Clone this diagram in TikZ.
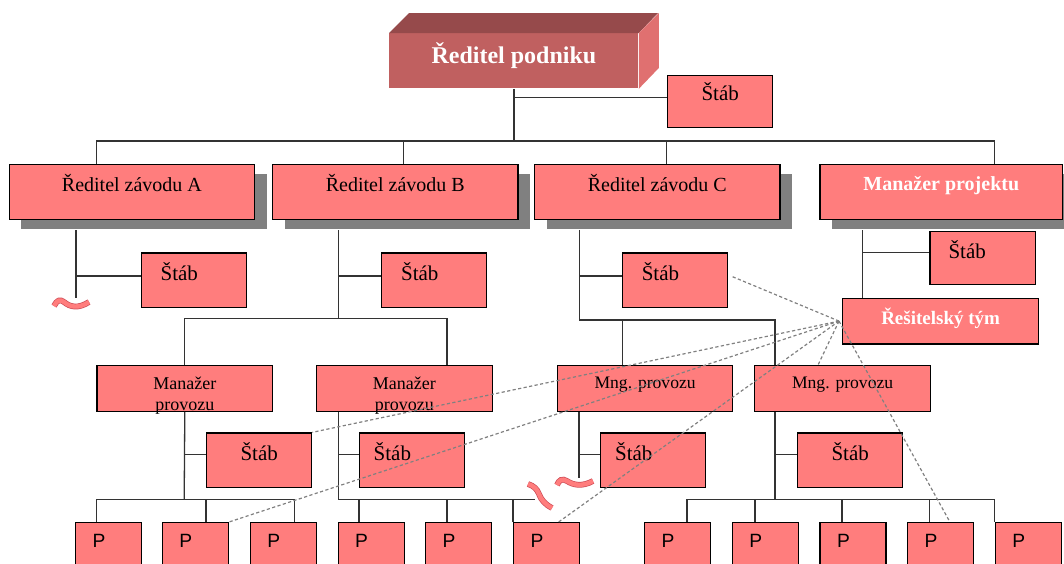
\documentclass[tikz,border=0pt]{standalone}
\usepackage{fontspec}
\setmainfont{Liberation Serif}
\newfontfamily\psans{Liberation Sans}
\usetikzlibrary{shadows}

\definecolor{boxpink}{RGB}{255,125,125}
\definecolor{frontred}{RGB}{192,96,96}
\definecolor{topred}{RGB}{150,74,75}
\definecolor{sidered}{RGB}{224,112,112}
\definecolor{shadowgray}{RGB}{128,128,128}
\definecolor{snipedge}{RGB}{205,75,85}

\tikzset{
  box/.style={draw=black, line width=0.6pt, fill=boxpink, anchor=north west, inner sep=0pt, font=\fontsize{10}{12}\selectfont},
  chief/.style={box, drop shadow={shadow xshift=6pt, shadow yshift=-5pt, fill=shadowgray, opacity=1}, minimum width=122.7pt, text height=13.5pt, text depth=14pt},
  boss/.style={text=white, font=\fontsize{10}{12}\selectfont\bfseries},
  stab/.style={box, minimum width=52.6pt, text height=14pt, text depth=13.2pt, font=\fontsize{10.5}{12}\selectfont},
  stableft/.style 2 args={stab, inner xsep=#1, text width=#2, align=left},
  oper/.style={box, minimum width=87.8pt, text height=11.5pt, text depth=11.35pt, font=\fontsize{8.8}{10.5}\selectfont},
  pbox/.style={box, inner xsep=8.5pt, text width=16pt, align=left, text height=12.5pt, text depth=12.5pt, font=\psans\fontsize{9.6}{11}\selectfont},
  conn/.style={draw=black!80, line width=0.65pt},
  link/.style={draw=gray, line width=0.6pt, dash pattern=on 1.6pt off 1.2pt},
  snip/.style={draw=snipedge, line width=0.35pt, double=boxpink, double distance=2.2pt},
}

\begin{document}
\begin{tikzpicture}[x=0.5pt, y=-0.5pt]
  \useasboundingbox (0,0) rectangle (1064,563);
  \clip (0,0) rectangle (1064,563);

  % top of the company
  \node[anchor=north west, inner sep=0pt, fill=frontred, minimum width=124.5pt, text height=15pt, text depth=12.5pt, text=white, font=\fontsize{12}{14}\selectfont\bfseries] (podnik) at (389,33) {Ředitel podniku};
  \fill[topred] (podnik.north west) -- ++(20,-20) -- ++(249,0) -- (podnik.north east) -- cycle;
  \fill[sidered] (podnik.north east) -- ++(20,-20) -- ++(0,55) -- (podnik.south east) -- cycle;
  \node[stab, text height=12.5pt, text depth=13.5pt] (s0) at (667,75) {Štáb};

  % plants and project
  \node[chief] (ra) at (8.6,163.5) {Ředitel závodu A};
  \node[chief] (rb) at (272,163.5) {Ředitel závodu B};
  \node[chief] (rc) at (534,163.5) {Ředitel závodu C};
  \node[chief, boss, minimum width=121.3pt, text height=13pt, text depth=14.5pt] (rm) at (819.4,163.5) {Manažer projektu};

  \node[stableft={9.7pt}{33.1pt}] (sa) at (140.5,252.3) {Štáb};
  \node[stableft={9.7pt}{33.1pt}] (sb) at (381,252.3) {Štáb};
  \node[stableft={9.7pt}{33.1pt}] (sc) at (621.7,252.3) {Štáb};
  \node[stableft={9.2pt}{34.1pt}, text height=13.5pt, text depth=13pt] (sm) at (929.4,231) {Štáb};
  \node[box, boss, minimum width=98pt, text height=13pt, text depth=9.8pt, font=\fontsize{9.5}{11}\selectfont\bfseries] (tym) at (842,297.7) {Řešitelský tým};

  % operations
  \node[oper, align=center, text height=22.5pt, text depth=0.35pt, font=\fontsize{9}{10.5}\selectfont] (mp1) at (96.4,365) {Manažer\\provozu};
  \node[oper, align=center, text height=22.5pt, text depth=0.35pt, font=\fontsize{9}{10.5}\selectfont] (mp2) at (316,365) {Manažer\\provozu};
  \node[oper, minimum width=87.5pt] (mg1) at (557,365) {Mng. provozu};
  \node[oper, minimum width=88pt] (mg2) at (754,365) {Mng. provozu};

  \node[stab] (sq1) at (206,432.3) {Štáb};
  \node[stableft={7pt}{38.5pt}] (sq2) at (359,432.3) {Štáb};
  \node[stableft={7.2pt}{38.1pt}] (sr1) at (600,432.3) {Štáb};
  \node[stab] (sr2) at (797,432.3) {Štáb};

  \node[pbox] (p1) at (75,522) {P};
  \node[pbox] (p2) at (161.8,522) {P};
  \node[pbox] (p3) at (249.7,522) {P};
  \node[pbox] (p4) at (337.5,522) {P};
  \node[pbox] (p5) at (425,522) {P};
  \node[pbox] (p6) at (513,522) {P};
  \node[pbox] (p7) at (644,522) {P};
  \node[pbox] (p8) at (731.7,522) {P};
  \node[pbox] (p9) at (819.4,522) {P};
  \node[pbox] (p10) at (906.9,522) {P};
  \node[pbox] (p11) at (994.7,522) {P};

  % first level
  \coordinate (da) at (96.4,141);
  \coordinate (db) at (403.6,141);
  \coordinate (dc) at (666.4,141);
  \coordinate (dm) at (994.7,141);
  \coordinate (j0) at ([yshift=2pt]s0.west);
  \draw[conn] (podnik.south) -- (podnik.south |- da);
  \draw[conn] (j0 -| podnik.south) -- (j0);
  \draw[conn] (da |- ra.north) -- (da) -- (dm) -- (dm |- rm.north);
  \draw[conn] (db) -- (db |- rb.north);
  \draw[conn] (dc) -- (dc |- rc.north);

  % second level
  \coordinate (ka) at (76,230);
  \coordinate (ha) at (76,276);
  \coordinate (ea) at (76,298);
  \draw[conn] (ka) -- (ea);
  \draw[conn] (ha) -- (ha -| sa.west);

  \coordinate (kb) at (338.5,230);
  \coordinate (hb) at (338.5,276);
  \coordinate (lb) at (338.5,318.3);
  \draw[conn] (kb) -- (lb);
  \draw[conn] (hb) -- (hb -| sb.west);
  \draw[conn] (mp1.north) |- (lb) -| ([xshift=65.5pt]mp2.north west);

  \coordinate (kc) at (579.7,230);
  \coordinate (hc) at (579.7,276);
  \coordinate (lc) at (579.7,320);
  \draw[conn] (kc) -- (lc) -| ([xshift=10.5pt]mg2.north west);
  \draw[conn] (hc) -- (hc -| sc.west);
  \draw[conn] ([xshift=32.7pt]mg1.north west) -- ++(0,-45);

  \coordinate (km) at (862.8,230);
  \coordinate (hm) at (862.8,252.3);
  \draw[conn] (km) -- (km |- tym.north);
  \draw[conn] (hm) -- (hm -| sm.west);

  % third level
  \coordinate (bm1) at (184.2,499.3);
  \coordinate (hm1) at (184.2,454.3);
  \draw[conn] (mp1.south) -- (bm1);
  \draw[conn] (hm1) -- (hm1 -| sq1.west);
  \draw[conn] ([xshift=10.7pt]p1.north west) |- (bm1) -| ([xshift=22.35pt]p3.north west);
  \draw[conn] ([xshift=22.1pt]p2.north west) -- ++(0,-22.7);

  \coordinate (bm2) at (338.5,499.3);
  \coordinate (hm2) at (338.5,454.3);
  \coordinate (be2) at (535,499.3);
  \draw[conn] (bm2 |- mp2.south) -- (bm2) -- (be2);
  \draw[conn] (hm2) -- (hm2 -| sq2.west);
  \draw[conn] ([xshift=10.75pt]p4.north west) -- ++(0,-22.7);
  \draw[conn] ([xshift=11pt]p5.north west) -- ++(0,-22.7);
  \draw[conn] (p6.north west) -- ++(0,-22.7);

  \coordinate (bg1) at (579,478);
  \coordinate (hg1) at (579,454.3);
  \draw[conn] (bg1 |- mg1.south) -- (bg1);
  \draw[conn] (hg1) -- (hg1 -| sr1.west);

  \coordinate (bg2) at (775,499.3);
  \coordinate (hg2) at (775,454.3);
  \draw[conn] (bg2 |- mg2.south) -- (bg2);
  \draw[conn] (hg2) -- (hg2 -| sr2.west);
  \draw[conn] ([xshift=21.5pt]p7.north west) |- (bg2) -| (p11.north west);
  \draw[conn] ([xshift=11.65pt]p8.north west) -- ++(0,-22.7);
  \draw[conn] ([xshift=11.3pt]p9.north west) -- ++(0,-22.7);
  \draw[conn] ([xshift=11.25pt]p10.north west) -- ++(0,-22.7);

  % broken ends
  \draw[snip] (54,306) .. controls (57,300) and (60,299) .. (64,302) .. controls (70,307) and (78,309) .. (89,302);
  \draw[snip] (557,485) .. controls (559,480) and (562,478) .. (567,481) .. controls (573,485) and (582,487) .. (593,481);
  \draw[snip] (528,484) .. controls (534,486) and (537,489) .. (539,494) .. controls (541,500) and (546,505) .. (552,508);

  % project team links
  \draw[link] ([xshift=-1.5pt]tym.west) -- ([xshift=1.5pt, yshift=2pt]sc.east);
  \draw[link] ([xshift=-1.5pt]tym.west) -- (sq1.north east);
  \draw[link] ([xshift=-1.5pt]tym.west) -- (p2.north east);
  \draw[link] ([xshift=-1.5pt]tym.west) -- ([xshift=22.8pt]p6.north west);
  \draw[link] ([xshift=-1.5pt]tym.west) -- ([xshift=32pt]mg2.north west);
  \draw[link] ([xshift=-1.5pt]tym.west) -- ([xshift=21.5pt]p10.north west);
\end{tikzpicture}
\end{document}
